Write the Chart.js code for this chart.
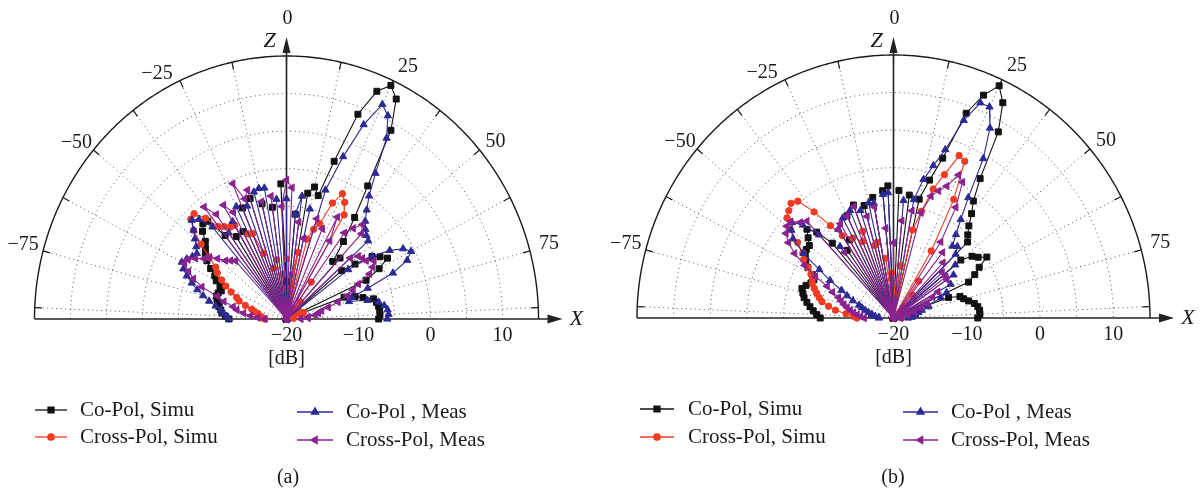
<!DOCTYPE html>
<html><head><meta charset="utf-8">
<script src="https://cdn.jsdelivr.net/npm/chart.js@4.4.1/dist/chart.umd.min.js"></script>
<style>
html,body{margin:0;padding:0;background:#fff;}
#wrap{position:relative;width:1202px;height:492px;overflow:hidden;background:#fff;}
canvas{position:absolute;top:0;}
</style></head><body>
<div id="wrap">
<canvas id="ca" width="601" height="492" style="left:0;width:601px;height:492px"></canvas>
<canvas id="cb" width="601" height="492" style="left:601px;width:601px;height:492px"></canvas>
</div>
<script>
// Angles (degrees, 0 = Z axis, positive toward X)
const angles = [
 -90,-87.5,-85,-82.5,-80,-77.5,-75,-72.5,-70,-67.5,
 -65,-62.5,-60,-57.5,-55,-52.5,-50,-47.5,-45,-42.5,
 -40,-37.5,-35,-32.5,-30,-27.5,-25,-22.5,-20,-17.5,
 -15,-12.5,-10,-7.5,-5,-2.5,0,2.5,5,7.5,
 10,12.5,15,17.5,20,22.5,25,27.5,30,32.5,
 35,37.5,40,42.5,45,47.5,50,52.5,55,57.5,
 60,62.5,65,67.5,70,72.5,75,77.5,80,82.5,
 85,87.5,90];

// Panel (a) — dB values
const coSimA = [
 -12,-11.5,-11,-10.8,-10.5,-10.2,-10,-9.8,-9.9,-10.2,
 -9.8,-9,-8.5,-7.5,-6.5,-5.8,-5.3,-4.7,-3.5,-2.8,
 -3,-6,-20,-7,-20,-6.9,-20,-4,-20,-3.2,
 -20,-4.3,-20,-5,-20,-2,-15,-20,-6,-20,
 -3,-2,-3,2,9,12.8,14.3,13,9,1,
 -3.5,-7,-10,-9,-20,-20,-10,-8,-5.5,-4.6,
 -3.8,-5.5,-7.8,-20,-11.5,-10,-9,-7.6,-7.3,-7.1,
 -7,-7,-7.2];
const crossSimA = [
 -17,-16.5,-16.5,-16,-16,-15.5,-15,-14,-13,-12.5,
 -11.5,-10.5,-9.6,-8.6,-8,-6.5,-4.5,-2.5,-1.2,-1,
 -2.5,-4.5,-5,-5.5,-5.6,-20,-7.5,-7.7,-10.7,-20,
 -13,-20,-12,-20,-14,-20,-12,-16,-20,-14,
 -11,-20,-9,-7.5,-6.5,-3.3,-1.6,-2.5,-4,-20,
 -14,-20,-17,-20,-18,-20,-19,-20,-18,-20,
 -20,-19,-20,-18,-17.5,-18,-20,-19,-20,-20,
 -19,-20,-20];
const coMeasA = [
 -12,-11.7,-11.2,-10.8,-10,-9,-8,-7,-6,-5,
 -4.2,-3.6,-4,-4.5,-4.8,-4.2,-3.4,-2.5,-1.4,-2,
 -4,-20,-6,-20,-5,-20,-3.5,-20,-4,-20,
 -2.5,-2.2,-2.3,-20,-4,-20,-4,-20,-6,-3.5,
 -20,-5,-20,-2,3,8,11.5,10.5,7.8,3,
 0,-1.7,-3,-3.8,-4.3,-4.6,-20,-9.2,-5.5,-3,
 -1.3,-0.5,-1.5,-4,-8,-10.5,-11,-8.5,-7,-6.3,
 -5.9,-5.8,-6];
const crossMeasA = [
 -17,-16,-15,-14,-13,-12.4,-11,-9.9,-7.5,-6,
 -5,-4,-4.2,-5,-6,-6.5,-7.5,-8.5,-9,-9.5,
 -20,-1.2,-3,-20,-2.5,-4,-20,-0.5,-3,-2,
 -20,-4,-20,-3.5,-20,-5,-1.5,-2.5,-20,-7,
 -20,-9,-20,-6,-20,-7,-20,-4.7,-8,-20,
 -6,-4.8,-3.6,-4.6,-20,-8,-7,-6.7,-6.5,-5.6,
 -6.2,-7,-9,-10,-11,-12.5,-14,-15,-15.5,-16,
 -17,-17,-18];

// Panel (b) — dB values
const coSimB = [
 -10,-9.5,-9,-8.5,-8,-7.5,-7.2,-6.9,-7.3,-7.8,
 -8,-7.5,-6.5,-5.8,-5.3,-5,-5,-4.2,-3.3,-4.5,
 -7,-20,-9,-20,-8,-20,-5,-20,-4,-20,
 -4.5,-20,-3.7,-20,-3,-2.4,-20,-3,-20,-3.5,
 -20,-3.8,-1,2.3,9,12.1,14.1,12.3,8.6,2,
 -1,-2.5,-4,-5,-5.7,-20,-8,-6.5,-5.9,-4.9,
 -6.5,-7.5,-8.7,-20,-12,-10.5,-10.1,-9.5,-8.8,-8.4,
 -8.2,-8.2,-8.5];
const crossSimB = [
 -15,-14.5,-13.5,-12,-11,-10,-9.5,-9,-8.5,-8,
 -7.8,-7.3,-6.5,-5.5,-4.9,-3.5,-1.6,-0.3,0.2,0.7,
 0.3,-2.2,-5,-7,-20,-8,-20,-9,-7.7,-20,
 -10,-9.7,-20,-12,-20,-14,-17,-16.2,-20,-13,
 -20,-8,-5.3,-2,0.3,3.4,3,-2.2,-9.7,-20,
 -14,-20,-16,-20,-18,-20,-19,-20,-18,-20,
 -20,-19,-20,-18,-18,-19,-20,-19,-20,-20,
 -20,-19,-20];
const coMeasB = [
 -18,-18,-17.5,-17,-17,-16.5,-16,-15.5,-15,-14,
 -13,-12,-10,-8,-5,-2.7,-1.8,-1.2,-2.5,-5,
 -20,-8,-20,-6,-20,-5,-20,-4.5,-20,-5,
 -20,-4.3,-4.5,-20,-3.5,-3.3,-20,-20,-4.3,-20,
 -4,-1.1,1,3.5,8,11,11,8.5,4.5,-1,
 -4,-6,-7.5,-7.1,-8,-20,-9,-20,-10,-20,
 -11,-20,-12,-13,-15,-15,-16,-16.5,-17,-17,
 -17.5,-17.5,-18];
const crossMeasB = [
 -16,-15.5,-15,-14.5,-14,-13.5,-13,-12.5,-12,-11,
 -10,-8,-6,-4,-2.5,-1.5,-1,-1,-2,-2.5,
 -20,-9,-20,-6,-5.5,-20,-5,-20,-4.2,-20,
 -6,-20,-5,-20,-8,-20,-10,-20,-7,-20,
 -5.5,-20,-5.5,-3,-2,-1,1,0.4,-3,-8,
 -20,-9,-20,-10,-20,-11,-20,-11,-11.1,-20,
 -13,-14,-20,-15,-16,-17,-17,-18,-18,-19,
 -19,-19,-19];

const seriesNames = ['Co-Pol, Simu','Cross-Pol, Simu','Co-Pol , Meas','Cross-Pol, Meas'];
const angleTickLabels = [-75,-50,-25,25,50,75];
const dbTickLabels = [-20,-10,0,10];
const R_MIN = -20, R_MAX = 15;

const STY = [
 {color:'#111111', pointStyle:'rect', radius:4.2, rotation:0},
 {color:'#f03a22', pointStyle:'circle', radius:3.2, rotation:0},
 {color:'#2d2a94', pointStyle:'triangle', radius:4.2, rotation:0},
 {color:'#8a2290', pointStyle:'triangle', radius:4.2, rotation:-90}
];
const FONT = '"Liberation Serif", "Times New Roman", serif';
const D2R = Math.PI/180;

function toXY(vals){
  return angles.map((a,i)=>{
    const r = Math.max(0, vals[i]-R_MIN);
    return {x: r*Math.sin(a*D2R), y: r*Math.cos(a*D2R)};
  });
}
function minus(v){ return v<0 ? '\u2212'+Math.abs(v) : String(v); }

function drawMarker(ctx, s, x, y){
  ctx.fillStyle = s.color; ctx.strokeStyle = s.color;
  Chart.helpers.drawPoint(ctx, {pointStyle:s.pointStyle, rotation:s.rotation, radius:s.radius, borderWidth:1}, x, y);
}

function makePanel(id, geo, vals, leg, caption){
  const span = R_MAX - R_MIN;
  const plugin = {
    id:'polarDecor'+id,
    beforeDatasetsDraw(chart){
      const ctx = chart.ctx, sx = chart.scales.x, sy = chart.scales.y;
      const P = (r,deg)=>[sx.getPixelForValue(r*Math.sin(deg*D2R)), sy.getPixelForValue(r*Math.cos(deg*D2R))];
      ctx.save();
      ctx.strokeStyle = '#555'; ctx.lineWidth = 1; ctx.setLineDash([1,3.5]);
      for (let r=5; r<span; r+=5){
        ctx.beginPath();
        for (let d=-90; d<=90; d+=1){ const p=P(r,d); if(d===-90) ctx.moveTo(p[0],p[1]); else ctx.lineTo(p[0],p[1]); }
        ctx.stroke();
      }
      for (let d=-87.5; d<=87.5; d+=12.5){
        if (Math.abs(d)<1e-6) continue;
        const p0=P(0,d), p1=P(span,d);
        ctx.beginPath(); ctx.moveTo(p0[0],p0[1]); ctx.lineTo(p1[0],p1[1]); ctx.stroke();
      }
      ctx.setLineDash([]);
      ctx.strokeStyle = '#1a1a1a'; ctx.lineWidth = 1.4;
      ctx.beginPath();
      for (let d=-90; d<=90; d+=0.5){ const p=P(span,d); if(d===-90) ctx.moveTo(p[0],p[1]); else ctx.lineTo(p[0],p[1]); }
      ctx.stroke();
      ctx.lineWidth = 1.2;
      for (let d=-87.5; d<=87.5; d+=12.5){
        const p0=P(span,d), p1=P(span-1.0,d);
        ctx.beginPath(); ctx.moveTo(p0[0],p0[1]); ctx.lineTo(p1[0],p1[1]); ctx.stroke();
      }
      const c = P(0,0);
      const left = sx.getPixelForValue(-span), right = sx.getPixelForValue(span);
      ctx.strokeStyle = '#222'; ctx.fillStyle = '#222'; ctx.lineWidth = 1.6;
      ctx.beginPath(); ctx.moveTo(left, c[1]); ctx.lineTo(right+12, c[1]); ctx.stroke();
      ctx.beginPath(); ctx.moveTo(right+24, c[1]); ctx.lineTo(right+9, c[1]-4.5); ctx.lineTo(right+9, c[1]+4.5); ctx.closePath(); ctx.fill();
      ctx.beginPath(); ctx.moveTo(c[0], c[1]); ctx.lineTo(c[0], geo.zTip+12); ctx.stroke();
      ctx.beginPath(); ctx.moveTo(c[0], geo.zTip); ctx.lineTo(c[0]-4, geo.zTip+16); ctx.lineTo(c[0]+4, geo.zTip+16); ctx.closePath(); ctx.fill();
      ctx.restore();
    },
    afterDraw(chart){
      const ctx = chart.ctx, sx = chart.scales.x, sy = chart.scales.y;
      const P = (r,deg)=>[sx.getPixelForValue(r*Math.sin(deg*D2R)), sy.getPixelForValue(r*Math.cos(deg*D2R))];
      const c = P(0,0);
      const right = sx.getPixelForValue(span);
      ctx.save();
      ctx.fillStyle = '#1a1a1a';
      ctx.textAlign = 'center'; ctx.textBaseline = 'middle';
      ctx.font = '20px '+FONT;
      const offs = {'-75':[-20,-6], '-50':[-17,-7], '-25':[-23,-7], '25':[15,-14], '50':[16,-8], '75':[19,-7]};
      angleTickLabels.forEach(a=>{
        const p = P(span,a), o = offs[String(a)];
        ctx.fillText(minus(a), p[0]+o[0], p[1]+o[1]);
      });
      ctx.fillText('0', c[0]+1, 19);
      dbTickLabels.forEach(v=>{
        const x = sx.getPixelForValue(v-R_MIN);
        ctx.fillText(minus(v), x, c[1]+17);
      });
      ctx.fillText('[dB]', c[0], c[1]+40);
      ctx.font = 'italic 22px '+FONT;
      ctx.fillText('Z', c[0]-17, 41);
      ctx.fillText('X', right+38, c[1]);
      ctx.font = '21px '+FONT; ctx.textAlign='left';
      leg.forEach((L,i)=>{
        const s = STY[i];
        ctx.strokeStyle = s.color; ctx.lineWidth = 1.3;
        ctx.beginPath(); ctx.moveTo(L.x0, L.y); ctx.lineTo(L.x1, L.y); ctx.stroke();
        drawMarker(ctx, s, (L.x0+L.x1)/2, L.y);
        ctx.fillStyle = '#1a1a1a';
        ctx.fillText(seriesNames[i], L.tx, L.y);
      });
      ctx.textAlign='center';
      ctx.font = '20px '+FONT;
      ctx.fillText(caption, geo.capX, 478);
      ctx.restore();
    }
  };
  const canvas = document.getElementById(id);
  const W = canvas.width, H = canvas.height;
  const datasets = vals.map((v,i)=>({
    label: seriesNames[i],
    data: toXY(v),
    showLine: true,
    borderColor: STY[i].color,
    backgroundColor: STY[i].color,
    borderWidth: 1.1,
    pointStyle: STY[i].pointStyle,
    pointRotation: STY[i].rotation,
    pointRadius: STY[i].radius,
    pointBorderWidth: 1,
    pointBorderColor: STY[i].color,
    pointBackgroundColor: STY[i].color,
    tension: 0,
    clip: false,
    order: 3-i
  }));
  new Chart(canvas, {
    type: 'scatter',
    data: {datasets},
    options: {
      responsive: false, animation: false, events: [],
      layout: {padding: {left: geo.cx-geo.rx, right: W-(geo.cx+geo.rx), top: geo.cy-geo.ry, bottom: H-geo.cy}},
      plugins: {legend:{display:false}, tooltip:{enabled:false}},
      scales: {
        x: {type:'linear', min:-span, max:span, display:false},
        y: {type:'linear', min:0, max:span, display:false}
      }
    },
    plugins: [plugin]
  });
}

makePanel('ca', {cx:286.5, cy:319, rx:252, ry:263, zTip:37, capX:288},
  [coSimA, crossSimA, coMeasA, crossMeasA],
  [{x0:35,x1:67,y:410,tx:80},{x0:35,x1:67,y:437,tx:80},{x0:297,x1:333,y:412,tx:346},{x0:297,x1:333,y:440,tx:346}],
  '(a)');
makePanel('cb', {cx:292.5, cy:318, rx:256.5, ry:263, zTip:37, capX:292},
  [coSimB, crossSimB, coMeasB, crossMeasB],
  [{x0:39,x1:73,y:409,tx:87},{x0:39,x1:73,y:437,tx:87},{x0:302,x1:337,y:412,tx:350},{x0:302,x1:337,y:440,tx:350}],
  '(b)');
</script>
</body></html>
